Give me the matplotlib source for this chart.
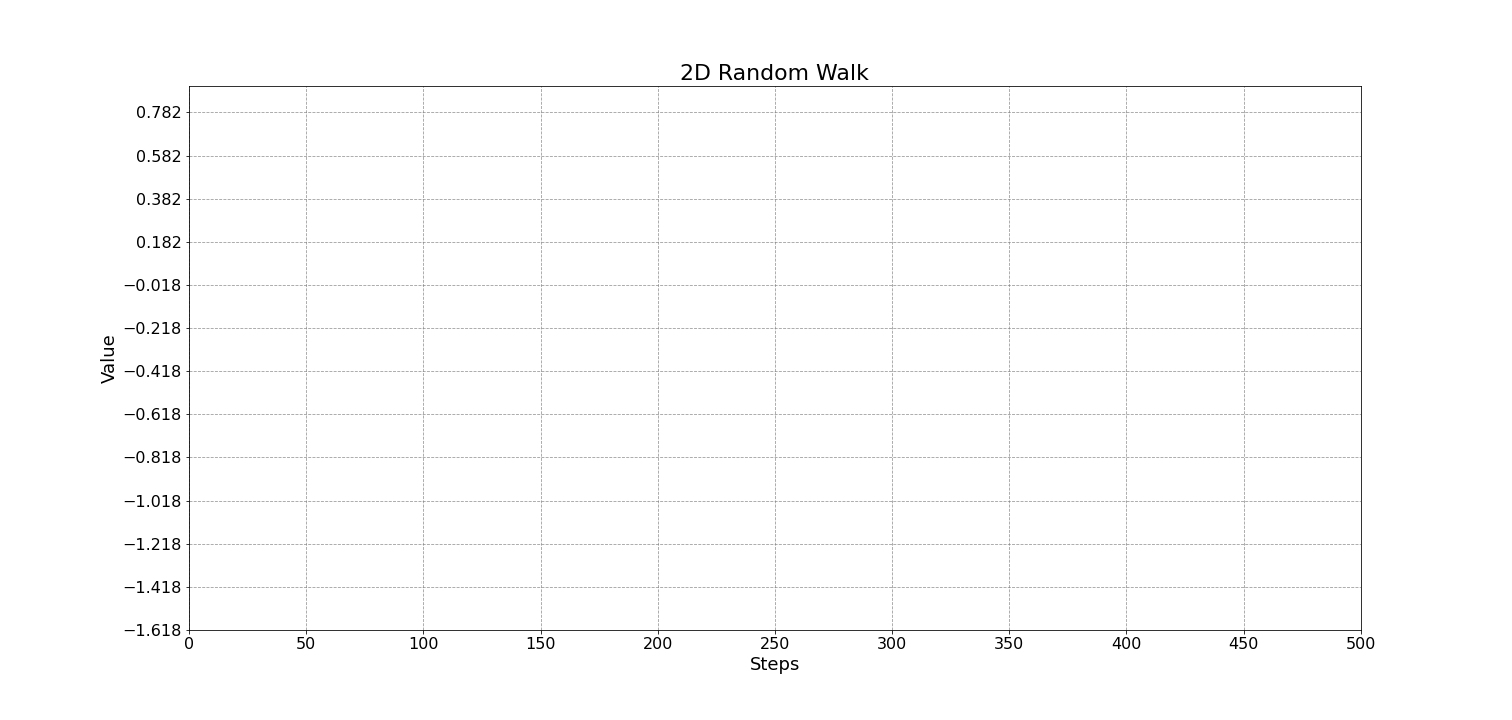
import matplotlib
matplotlib.use("Agg")
import matplotlib.pyplot as plt

# Data (the reference chart shows no plotted walk)
steps = []
values = []
x_ticks = [0, 50, 100, 150, 200, 250, 300, 350, 400, 450, 500]
y_ticks = [-1.618, -1.418, -1.218, -1.018, -0.818, -0.618, -0.418, -0.218,
           -0.018, 0.182, 0.382, 0.582, 0.782]

fig = plt.figure(figsize=(21, 10), dpi=72)
ax = fig.add_subplot(111)
fig.subplots_adjust(left=0.125, right=0.9, top=0.88, bottom=0.125)

ax.plot(steps, values, color="tab:blue")

ax.set_xlim(0, 500)
ax.set_ylim(-1.618, 0.9025)
ax.set_xticks(x_ticks)
ax.set_yticks(y_ticks)
ax.set_yticklabels([f"{v:.3f}".replace("-", "\u2212") for v in y_ticks])
ax.tick_params(labelsize=16)
ax.grid(True, linestyle="--", color="gray", linewidth=0.8, alpha=0.8)

ax.set_title("2D Random Walk", fontsize=22)
ax.set_xlabel("Steps", fontsize=18)
ax.set_ylabel("Value", fontsize=18)

fig.savefig("out.png", dpi=72)
